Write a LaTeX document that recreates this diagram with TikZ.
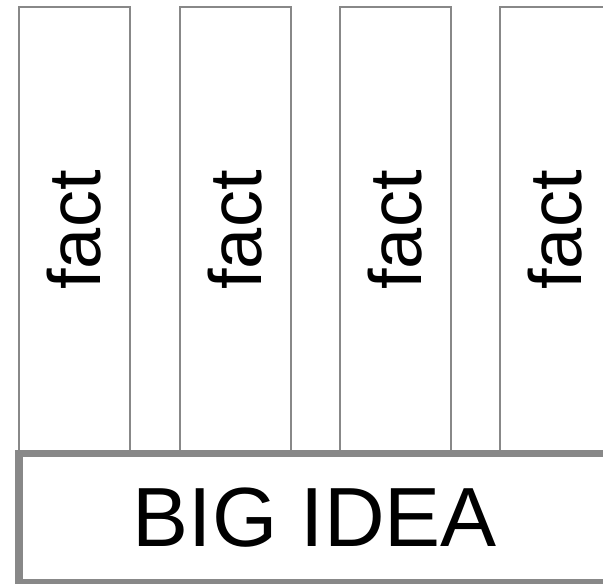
\documentclass[tikz,border=0pt]{standalone}
\usepackage{fontspec}
\setmainfont{Liberation Sans}
\usetikzlibrary{positioning}
\definecolor{pillargray}{HTML}{888888}

\begin{document}
\begin{tikzpicture}[x=1pt,y=-1pt,
  pillar/.style={draw=pillargray,line width=1.6pt,fill=white,rotate=90,
    minimum width=446pt,minimum height=111pt,inner sep=0pt,
    font=\fontsize{74}{74}\selectfont},
  idea/.style={draw=pillargray,line width=7.5pt,fill=white,
    minimum width=592pt,minimum height=129pt,inner sep=0pt,
    font=\fontsize{84}{84}\selectfont}]
\useasboundingbox (0,0) rectangle (603,584);
\foreach \i/\px in {1/74.5,2/235.5,3/395.5,4/555.5}
  \node[pillar] (fact\i) at (\px,230) {fact};
\node[idea] (bigidea) at (315,518) {BIG IDEA};
\end{tikzpicture}
\end{document}
